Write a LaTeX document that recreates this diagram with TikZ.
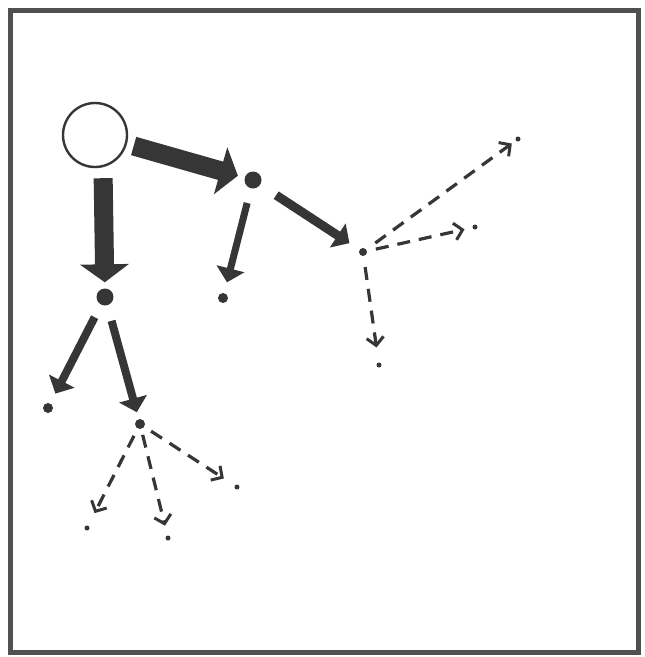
\documentclass[tikz,border=0pt]{standalone}
\usetikzlibrary{arrows.meta}
\definecolor{ink}{HTML}{363636}
\definecolor{framec}{HTML}{505050}
\begin{document}
\begin{tikzpicture}[x=1pt,y=-1pt,
  dotnode/.style={circle,fill=ink,inner sep=0pt,minimum size=#1},
  bigarrow/.style={draw=ink,line cap=butt,line width=19pt,-{Triangle[width=48pt,length=18pt]}},
  midarrow/.style={draw=ink,line cap=butt,line width=#1,-{Triangle[width=28pt,length=14pt]}},
  dasharrow/.style={draw=ink,line width=3.2pt,dash pattern=on 13pt off 9pt,-{Straight Barb[length=8pt,width=17pt,line width=3pt]}}]
\useasboundingbox (0,0) rectangle (645,657);
\fill[white] (0,0) rectangle (645,657);
\draw[framec,line width=5pt] (10,10) rectangle (638,652);
% nodes
\node[circle,draw=ink,line width=2.4pt,minimum size=64pt,inner sep=0pt] (root) at (95,135) {};
\node[dotnode=17pt] (A) at (253,180) {};
\node[dotnode=17pt] (B) at (105,297) {};
\node[dotnode=10pt] (A1) at (223,298) {};
\node[dotnode=8pt] (C) at (363,252) {};
\node[dotnode=10pt] (B1) at (48,408) {};
\node[dotnode=10pt] (D) at (140,424) {};
\node[dotnode=5pt] (E1) at (518,139) {};
\node[dotnode=5pt] (E2) at (475,227) {};
\node[dotnode=5pt] (E3) at (379,365) {};
\node[dotnode=5pt] (F1) at (87,528) {};
\node[dotnode=5pt] (F2) at (168,538) {};
\node[dotnode=5pt] (F3) at (237,487) {};
% big arrows
\draw[bigarrow,shorten <=7pt,shorten >=7pt] (root) -- (A);
\draw[bigarrow,shorten <=10pt,shorten >=6pt] (root.south) ++(8,0) coordinate (rs) (rs) -- (B);
% medium arrows
\draw[midarrow=7pt,shorten <=15pt,shorten >=11pt] (A) -- (A1);
\draw[midarrow=9pt,shorten <=19pt,shorten >=12pt] (A) -- (C);
\draw[midarrow=8pt,shorten <=14pt,shorten >=11pt] (B) -- (B1);
\draw[midarrow=8pt,shorten <=16pt,shorten >=7pt] (B) -- (D);
% dashed arrows
\draw[dasharrow,shorten <=11pt,shorten >=5pt] (C) -- (E1);
\draw[dasharrow,shorten <=9pt,shorten >=8pt] (C) -- (E2);
\draw[dasharrow,shorten <=11pt,shorten >=15pt] (C) -- (E3);
\draw[dasharrow,shorten <=8pt,shorten >=14pt] (D) -- (F1);
\draw[dasharrow,shorten <=6pt,shorten >=10pt] (D) -- (F2);
\draw[dasharrow,shorten <=8pt,shorten >=13pt] (D) -- (F3);
\end{tikzpicture}
\end{document}
